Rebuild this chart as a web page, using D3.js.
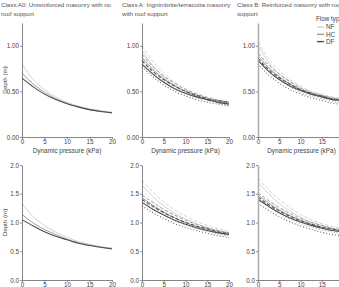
<!DOCTYPE html>
<html>
<head>
<meta charset="utf-8">
<script src="https://cdn.jsdelivr.net/npm/d3@7"></script>
<style>
  body { margin: 0; background: #fff; }
  svg { display: block; font-family: "Liberation Sans", Arial, sans-serif; }
</style>
</head>
<body>
<div id="chart"></div>
<script>
// x values shared by every curve
const pressure = [0, 2.5, 5, 7.5, 10, 12.5, 15, 17.5, 20];
const flowTypes = ["NF", "HC", "DF"];
const topTicks = [0, 0.5, 1];
const bottomTicks = [0, 0.5, 1, 1.5, 2];
const xTicks = [0, 5, 10, 15, 20];

// Class A0, top row (solid only)
const a0TopNF = [0.80, 0.63, 0.52, 0.44, 0.38, 0.34, 0.31, 0.29, 0.27];
const a0TopHC = [0.70, 0.58, 0.49, 0.42, 0.37, 0.33, 0.30, 0.28, 0.27];
const a0TopDF = [0.645, 0.55, 0.47, 0.41, 0.365, 0.33, 0.30, 0.28, 0.265];
// Class A0, bottom row
const a0BotNF = [1.33, 1.10, 0.95, 0.83, 0.74, 0.67, 0.62, 0.58, 0.55];
const a0BotHC = [1.14, 0.99, 0.88, 0.79, 0.71, 0.65, 0.61, 0.57, 0.55];
const a0BotDF = [1.05, 0.94, 0.84, 0.76, 0.70, 0.64, 0.60, 0.57, 0.54];

// Class A, top row: [solid, dashed, dotted]
const aTopNF = [
  [0.95, 0.78, 0.66, 0.57, 0.50, 0.45, 0.42, 0.39, 0.37],
  [1.00, 0.83, 0.70, 0.60, 0.53, 0.48, 0.44, 0.41, 0.39],
  [0.90, 0.74, 0.63, 0.54, 0.48, 0.43, 0.40, 0.37, 0.35]];
const aTopHC = [
  [0.87, 0.74, 0.64, 0.56, 0.50, 0.45, 0.41, 0.39, 0.37],
  [0.91, 0.77, 0.67, 0.59, 0.52, 0.47, 0.43, 0.40, 0.38],
  [0.83, 0.70, 0.61, 0.53, 0.47, 0.43, 0.40, 0.37, 0.35]];
const aTopDF = [
  [0.80, 0.69, 0.60, 0.53, 0.48, 0.44, 0.41, 0.38, 0.36],
  [0.84, 0.72, 0.63, 0.56, 0.50, 0.46, 0.42, 0.40, 0.38],
  [0.77, 0.66, 0.57, 0.50, 0.45, 0.41, 0.38, 0.36, 0.34]];
// Class A, bottom row
const aBotNF = [
  [1.65, 1.45, 1.29, 1.16, 1.06, 0.98, 0.91, 0.86, 0.82],
  [1.73, 1.53, 1.36, 1.22, 1.11, 1.02, 0.95, 0.89, 0.85],
  [1.58, 1.38, 1.22, 1.10, 1.00, 0.92, 0.86, 0.81, 0.77]];
const aBotHC = [
  [1.43, 1.30, 1.18, 1.08, 1.00, 0.93, 0.88, 0.83, 0.80],
  [1.48, 1.35, 1.23, 1.13, 1.04, 0.97, 0.91, 0.86, 0.82],
  [1.38, 1.25, 1.13, 1.03, 0.95, 0.89, 0.84, 0.80, 0.76]];
const aBotDF = [
  [1.35, 1.23, 1.13, 1.04, 0.97, 0.91, 0.86, 0.82, 0.79],
  [1.40, 1.28, 1.17, 1.08, 1.00, 0.94, 0.89, 0.84, 0.81],
  [1.29, 1.17, 1.07, 0.98, 0.91, 0.86, 0.81, 0.77, 0.74]];

// Class B, top row
const bTopNF = [
  [1.00, 0.82, 0.69, 0.60, 0.53, 0.48, 0.45, 0.42, 0.40],
  [1.04, 0.86, 0.73, 0.63, 0.56, 0.50, 0.47, 0.44, 0.42],
  [0.95, 0.78, 0.66, 0.57, 0.51, 0.46, 0.43, 0.40, 0.38]];
const bTopHC = [
  [0.89, 0.76, 0.66, 0.58, 0.52, 0.47, 0.44, 0.42, 0.40],
  [0.92, 0.79, 0.69, 0.61, 0.54, 0.49, 0.46, 0.43, 0.41],
  [0.85, 0.72, 0.63, 0.55, 0.49, 0.45, 0.42, 0.39, 0.37]];
const bTopDF = [
  [0.84, 0.72, 0.63, 0.56, 0.51, 0.47, 0.44, 0.41, 0.40],
  [0.86, 0.74, 0.65, 0.58, 0.52, 0.48, 0.45, 0.42, 0.41],
  [0.80, 0.68, 0.59, 0.52, 0.47, 0.43, 0.40, 0.37, 0.36]];
// Class B, bottom row
const bBotNF = [
  [1.70, 1.50, 1.33, 1.20, 1.09, 1.01, 0.95, 0.90, 0.86],
  [1.77, 1.57, 1.40, 1.26, 1.14, 1.05, 0.98, 0.93, 0.89],
  [1.62, 1.42, 1.26, 1.13, 1.03, 0.95, 0.89, 0.84, 0.80]];
const bBotHC = [
  [1.48, 1.34, 1.22, 1.12, 1.04, 0.97, 0.92, 0.88, 0.85],
  [1.52, 1.38, 1.26, 1.16, 1.07, 1.00, 0.95, 0.90, 0.87],
  [1.42, 1.28, 1.16, 1.06, 0.98, 0.92, 0.87, 0.83, 0.80]];
const bBotDF = [
  [1.40, 1.28, 1.17, 1.08, 1.01, 0.95, 0.90, 0.86, 0.84],
  [1.44, 1.31, 1.20, 1.11, 1.03, 0.97, 0.92, 0.88, 0.86],
  [1.33, 1.21, 1.10, 1.01, 0.94, 0.88, 0.83, 0.79, 0.77]];

const titles = [
  ["Class A0: Unreinforced masonry with no", "roof support"],
  ["Class A: Ingnimbrite/terracotta masonry", "with roof support"],
  ["Class B: Reinforced masonry with roof", "support"]
];

const width = 339, height = 287;
const colors = { NF: "#c6c6c6", HC: "#929292", DF: "#4d4d4d" };
const widths = { NF: 0.8, HC: 0.9, DF: 1.1 };
const dashes = [null, "3.5,2", "0.8,2.2"];

const svg = d3.select("#chart").append("svg")
  .attr("width", width).attr("height", height);

const cols = [
  { x0: 22, x1: 112, tx: 1 },
  { x0: 142, x1: 229, tx: 122 },
  { x0: 258, x1: 343, tx: 237 }
];
const rows = [
  { y0: 137, y1: 23, max: 1.25, ticks: topTicks, fmt: d3.format(".2f") },
  { y0: 280, y1: 165, max: 2, ticks: bottomTicks, fmt: d3.format(".1f") }
];

const panelData = [
  [[[a0TopNF], [a0TopHC], [a0TopDF]], [aTopNF, aTopHC, aTopDF], [bTopNF, bTopHC, bTopDF]],
  [[[a0BotNF], [a0BotHC], [a0BotDF]], [aBotNF, aBotHC, aBotDF], [bBotNF, bBotHC, bBotDF]]
];

rows.forEach((row, ri) => {
  cols.forEach((col, ci) => {
    const x = d3.scaleLinear().domain([0, 20]).range([col.x0, col.x1]);
    const y = d3.scaleLinear().domain([0, row.max]).range([row.y0, row.y1]);
    const g = svg.append("g");

    const line = d3.line()
      .x((d, i) => x(pressure[i]))
      .y(d => y(d))
      .curve(d3.curveMonotoneX);

    // light first so the dark ones sit on top
    panelData[ri][ci].forEach((variants, fi) => {
      const key = flowTypes[fi];
      variants.forEach((vals, vi) => {
        g.append("path")
          .datum(vals)
          .attr("d", line)
          .attr("fill", "none")
          .attr("stroke", colors[key])
          .attr("stroke-width", widths[key])
          .attr("stroke-dasharray", dashes[vi]);
      });
    });

    const yAxis = g.append("g")
      .attr("transform", `translate(${col.x0},0)`)
      .call(d3.axisLeft(y).tickValues(row.ticks).tickFormat(row.fmt).tickSize(2).tickSizeOuter(0));
    const xAxis = g.append("g")
      .attr("transform", `translate(0,${row.y0})`)
      .call(d3.axisBottom(x).tickValues(xTicks).tickSize(2).tickSizeOuter(0));

    [yAxis, xAxis].forEach(a => {
      a.select(".domain").attr("stroke", "#666").attr("stroke-width", 0.8);
      a.selectAll(".tick line").attr("stroke", "#666").attr("stroke-width", 0.7);
      a.selectAll(".tick text").attr("fill", "#444").style("font-size", "6.3px");
    });
    if (ci === 2) yAxis.select(".domain").attr("stroke", "#aaa").attr("stroke-width", 1.5);
    yAxis.selectAll(".tick text").attr("x", -3);
    xAxis.selectAll(".tick text").attr("y", 2.3);

    if (ri === 0) {
      svg.append("text")
        .attr("x", (col.x0 + Math.min(col.x1, 339)) / 2 + (ci === 2 ? 3 : 0))
        .attr("y", 153)
        .attr("text-anchor", "middle")
        .attr("fill", "#444")
        .style("font-size", "6.4px")
        .text("Dynamic pressure (kPa)");
      titles[ci].forEach((t, li) => {
        svg.append("text")
          .attr("x", col.tx)
          .attr("y", 7 + li * 8.5)
          .attr("fill", "#555")
          .style("font-size", "6.2px")
          .text(t);
      });
    }
    if (ci === 0) {
      svg.append("text")
        .attr("transform", `translate(6.5,${(row.y0 + row.y1) / 2}) rotate(-90)`)
        .attr("text-anchor", "middle")
        .attr("fill", "#444")
        .style("font-size", "6.2px")
        .text("Depth (m)");
    }
  });
});

// legend
const legend = svg.append("g").attr("transform", "translate(315,0)");
legend.append("text").attr("x", 1).attr("y", 21)
  .attr("fill", "#444").style("font-size", "6.3px").text("Flow type");
flowTypes.forEach((f, i) => {
  const yy = 27 + i * 7.3;
  legend.append("line")
    .attr("x1", 2).attr("x2", 9).attr("y1", yy).attr("y2", yy)
    .attr("stroke", colors[f]).attr("stroke-width", widths[f] + 0.3);
  legend.append("text").attr("x", 11).attr("y", yy + 2.2)
    .attr("fill", "#444").style("font-size", "6.3px").text(f);
});
</script>
</body>
</html>
